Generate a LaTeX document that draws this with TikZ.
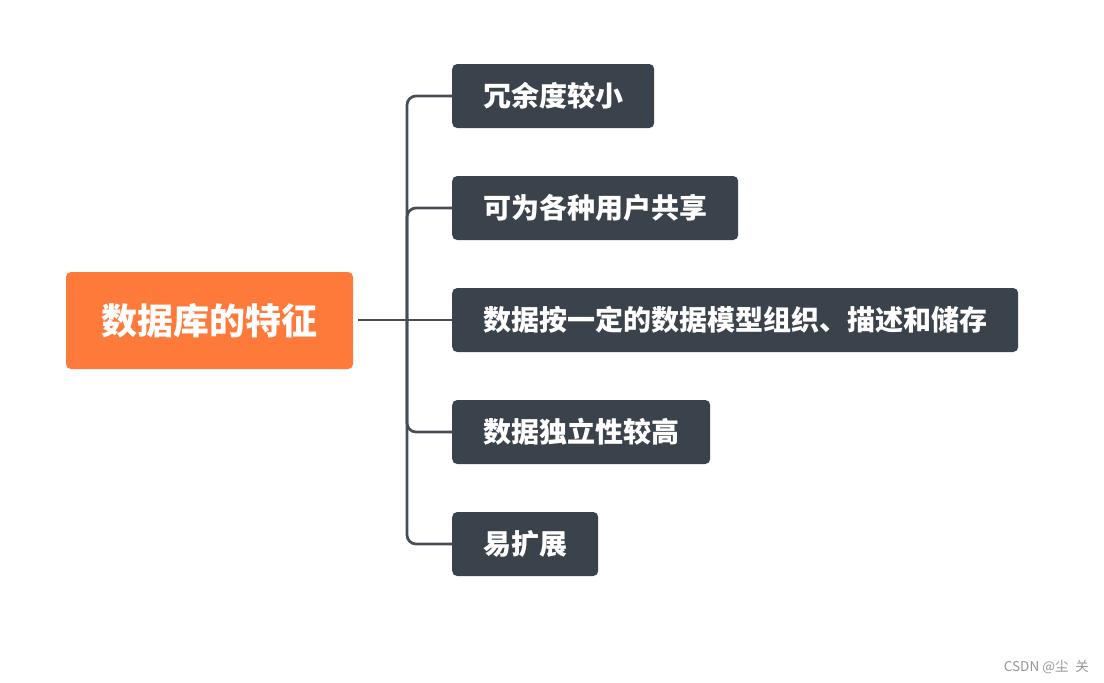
\documentclass[tikz,border=0pt]{standalone}
\usepackage{fontspec}
\setmainfont{Noto Sans CJK SC}
\definecolor{rootc}{RGB}{254,122,58}
\definecolor{childc}{RGB}{58,67,76}
\definecolor{linec}{RGB}{70,77,85}
\definecolor{wmc}{RGB}{150,150,150}
\tikzset{
  rootbox/.style={fill=rootc, rounded corners=5pt, minimum width=287pt, minimum height=97pt, inner sep=0pt, text=white, font=\fontsize{36}{40}\selectfont\bfseries},
  childbox/.style={fill=childc, rounded corners=5pt, minimum height=64pt, inner sep=0pt, anchor=west, text=white, font=\fontsize{28}{32}\selectfont\bfseries},
  conn/.style={draw=linec, line width=2.7pt, rounded corners=9pt},
}
\begin{document}
\begin{tikzpicture}[x=1pt,y=-1pt]
\useasboundingbox (0,0) rectangle (1104,683);
\node[rootbox] (root) at (209.5,320.5) {数据库的特征};
\node[childbox, minimum width=202pt] (c1) at (452,96) {冗余度较小};
\node[childbox, minimum width=286pt] (c2) at (452,208) {可为各种用户共享};
\node[childbox, minimum width=566pt] (c3) at (452,320) {数据按一定的数据模型组织、描述和储存};
\node[childbox, minimum width=258pt] (c4) at (452,432) {数据独立性较高};
\node[childbox, minimum width=146pt] (c5) at (452,544) {易扩展};
\coordinate (j) at (407,320);
\draw[conn, shorten <=5pt] (root.east |- j) -- (c3.west);
\draw[conn] (j) |- (c1.west);
\draw[conn] (j) |- (c2.west);
\draw[conn] (j) |- (c4.west);
\draw[conn] (j) |- (c5.west);
\node[anchor=east, text=wmc, font=\fontsize{13.5}{15}\selectfont, inner sep=0pt] (wm) at (1089,667) {CSDN @尘\hspace{0.5em}关};
\end{tikzpicture}
\end{document}
